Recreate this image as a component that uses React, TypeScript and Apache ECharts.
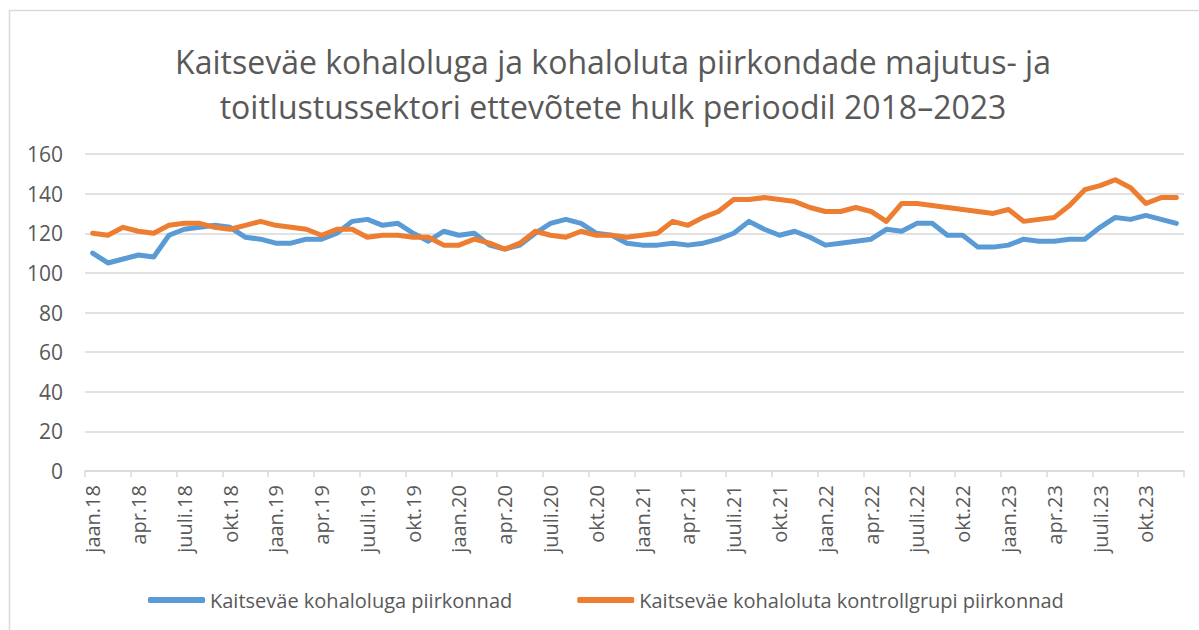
import React, { useEffect, useRef } from "react";
import * as echarts from "echarts";

const monthNames = ["jaan", "veebr", "märts", "apr", "mai", "juuni", "juuli", "aug", "sept", "okt", "nov", "dets"];
const years = ["18", "19", "20", "21", "22", "23"];
const categories: string[] = years.flatMap((y) => monthNames.map((m) => `${m}.${y}`));

const seriesNames = ["Kaitseväe kohaloluga piirkonnad", "Kaitseväe kohaloluta kontrollgrupi piirkonnad"];

const withPresence = [
  110, 105, 107, 109, 108, 119, 122, 123, 124, 123, 118, 117,
  115, 115, 117, 117, 120, 126, 127, 124, 125, 120, 116, 121,
  119, 120, 114, 112, 114, 120, 125, 127, 125, 120, 119, 115,
  114, 114, 115, 114, 115, 117, 120, 126, 122, 119, 121, 118,
  114, 115, 116, 117, 122, 121, 125, 125, 119, 119, 113, 113,
  114, 117, 116, 116, 117, 117, 123, 128, 127, 129, 127, 125,
];

const control = [
  120, 119, 123, 121, 120, 124, 125, 125, 123, 122, 124, 126,
  124, 123, 122, 119, 122, 122, 118, 119, 119, 118, 118, 114,
  114, 117, 115, 112, 115, 121, 119, 118, 121, 119, 119, 118,
  119, 120, 126, 124, 128, 131, 137, 137, 138, 137, 136, 133,
  131, 131, 133, 131, 126, 135, 135, 134, 133, 132, 131, 130,
  132, 126, 127, 128, 134, 142, 144, 147, 143, 135, 138, 138,
];

const titleText = "Kaitseväe kohaloluga ja kohaloluta piirkondade majutus- ja\ntoitlustussektori ettevõtete hulk perioodil 2018–2023";

export default function App() {
  const ref = useRef<HTMLDivElement>(null);
  useEffect(() => {
    if (!ref.current) return;
    const chart = echarts.init(ref.current, null, { renderer: "svg" });
    const font = "'Open Sans', 'Noto Sans', sans-serif";
    chart.setOption({
      animation: false,
      backgroundColor: "#ffffff",
      textStyle: { fontFamily: font },
      graphic: [
        {
          type: "rect",
          shape: { x: 9.5, y: 10.5, width: 1200, height: 630 },
          style: { fill: "none", stroke: "#D9D9D9", lineWidth: 1.5 },
          silent: true,
        },
      ],
      title: {
        text: titleText,
        left: 608,
        top: 34,
        textAlign: "center",
        textStyle: {
          fontFamily: font,
          fontSize: 32,
          fontWeight: "normal",
          color: "#595959",
          lineHeight: 45,
          align: "center",
        },
      },
      grid: { left: 85, right: 15, top: 154, bottom: 159, containLabel: false },
      legend: {
        left: 143,
        top: 585,
        itemWidth: 57,
        itemHeight: 6,
        itemGap: 65,
        icon: "roundRect",
        textStyle: { fontFamily: font, fontSize: 20, color: "#595959" },
        data: seriesNames,
      },
      xAxis: {
        type: "category",
        data: categories,
        boundaryGap: true,
        axisLine: { show: true, lineStyle: { color: "#D9D9D9", width: 1.5 } },
        axisTick: { show: true, interval: 2, length: 6, lineStyle: { color: "#D9D9D9", width: 1.5 } },
        axisLabel: {
          interval: 2,
          rotate: 90,
          margin: 14,
          fontFamily: font,
          fontSize: 20,
          color: "#595959",
        },
        splitLine: { show: false },
      },
      yAxis: {
        type: "value",
        min: 0,
        max: 160,
        interval: 20,
        axisLine: { show: false },
        axisTick: { show: false },
        axisLabel: { margin: 22, fontFamily: font, fontSize: 21, color: "#595959" },
        splitLine: { lineStyle: { color: "#D9D9D9", width: 1.5 } },
      },
      series: [
        {
          name: seriesNames[0],
          type: "line",
          data: withPresence,
          showSymbol: false,
          symbol: "none",
          lineStyle: { color: "#5B9BD5", width: 5, cap: "round", join: "round" },
          itemStyle: { color: "#5B9BD5" },
        },
        {
          name: seriesNames[1],
          type: "line",
          data: control,
          showSymbol: false,
          symbol: "none",
          lineStyle: { color: "#ED7D31", width: 5, cap: "round", join: "round" },
          itemStyle: { color: "#ED7D31" },
        },
      ],
    });
    return () => chart.dispose();
  }, []);
  return (
    <div
      ref={ref}
      style={{ position: "fixed", left: 0, top: 0, width: 1199, height: 630 }}
    />
  );
}
